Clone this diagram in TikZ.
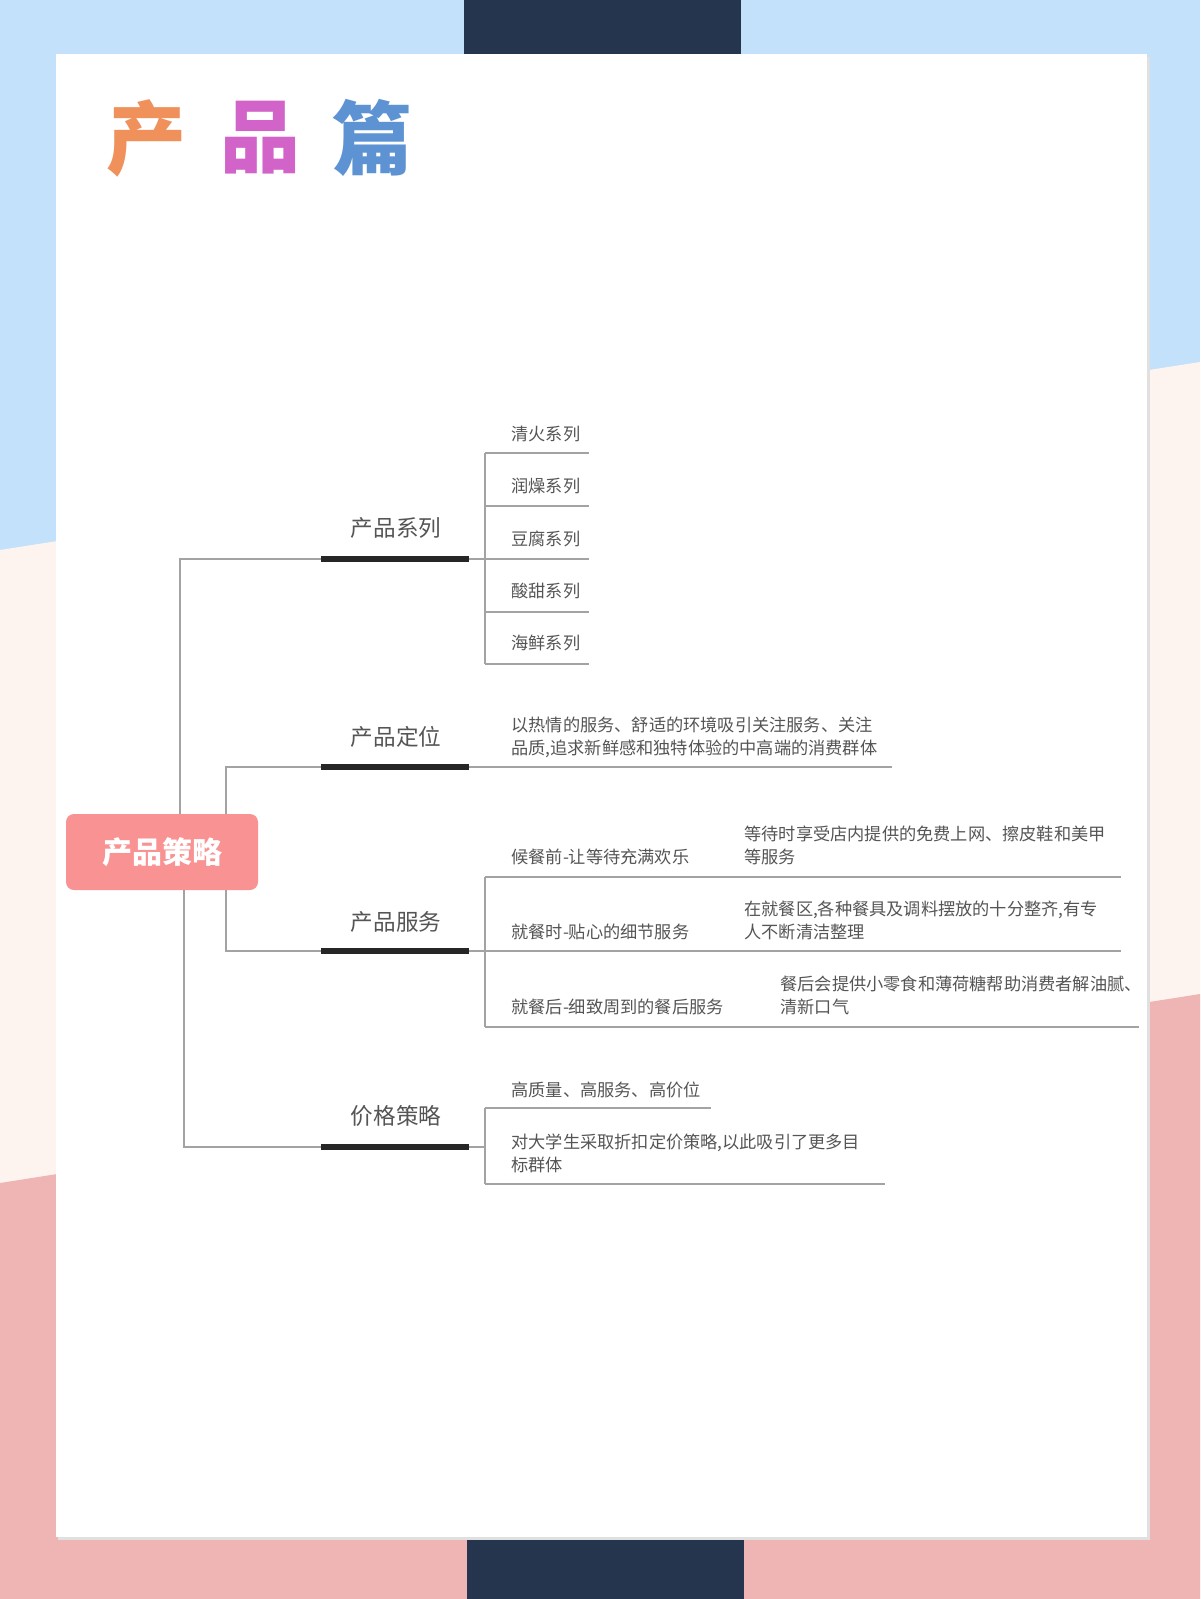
\documentclass[tikz,border=0pt]{standalone}
\usepackage{fontspec}
\setmainfont{Noto Sans CJK SC}
\definecolor{bgblue}{HTML}{C3E1FA}
\definecolor{bgcream}{HTML}{FDF4EF}
\definecolor{bgpink}{HTML}{EFB5B5}
\definecolor{navy}{HTML}{25354D}
\definecolor{rootpink}{HTML}{F99292}
\definecolor{linegray}{HTML}{A3A3A3}
\definecolor{txtgray}{HTML}{555555}
\definecolor{tA}{HTML}{F0915C}
\definecolor{tB}{HTML}{D163C9}
\definecolor{tC}{HTML}{5E93D3}
\tikzset{
  conn/.style={draw=linegray, line width=1pt},
  under/.style={draw=black!85, line width=2.6pt},
  rootbox/.style={fill=rootpink, text=white, rounded corners=4pt, minimum width=96pt, minimum height=38pt, inner sep=0pt, font=\fontsize{15}{15}\selectfont\bfseries},
  lvlone/.style={text=txtgray, inner sep=0pt, font=\fontsize{11.3}{11.3}\selectfont},
  lvltwo/.style={text=txtgray, inner sep=0pt, anchor=west, align=left, font=\fontsize{8.6}{11.5}\selectfont},
  titlech/.style={inner sep=0pt, font=\fontsize{40}{40}\selectfont\bfseries}
}
\begin{document}
\begin{tikzpicture}[x=0.5pt,y=-0.5pt]
\useasboundingbox (0,0) rectangle (1200,1599);
% background
\fill[bgblue] (0,0) rectangle (1200,1599);
\fill[bgcream] (0,550) -- (1200,362) -- (1200,1599) -- (0,1599) -- cycle;
\fill[bgpink] (0,1183) -- (1200,994) -- (1200,1599) -- (0,1599) -- cycle;
\fill[navy] (464,0) rectangle (741,60);
\fill[navy] (467,1530) rectangle (744,1599);
\fill[black!12] (58,57) rectangle (1150,1540);
\fill[white] (56,54) rectangle (1147,1537);
% title
\node[titlech, text=tA] (ta) at (146,138) {产};
\node[titlech, text=tB] (tb) at (260,138) {品};
\node[titlech, text=tC] (tc) at (372,138) {篇};
% root
\node[rootbox] (root) at (162,852) {产品策略};
% level-1 labels
\node[lvlone] (s1) at (396,528) {产品系列};
\node[lvlone] (s2) at (396,737) {产品定位};
\node[lvlone] (s3) at (396,922) {产品服务};
\node[lvlone] (s4) at (396,1116) {价格策略};
% junction coordinates
\coordinate (j1) at (179.5,559);
\coordinate (j2) at (226,767);
\coordinate (j3) at (226,951);
\coordinate (j4) at (183.5,1147);
\coordinate (b1) at (485,559);
\coordinate (b3) at (485,951);
\coordinate (b4) at (485,1147);
\coordinate (e2) at (892,767);
% trunks
\draw[conn] (root.north -| j1) -- (j1) -- (b1);
\draw[conn] (root.north -| j2) -- (j2) -- (e2);
\draw[conn] (root.south -| j3) -- (j3) -- (b3);
\draw[conn] (root.south -| j4) -- (j4) -- (b4);
% underlines of level-1
\coordinate (u1a) at (321,559); \coordinate (u1b) at (469,559);
\coordinate (u2a) at (321,767); \coordinate (u2b) at (469,767);
\coordinate (u3a) at (321,951); \coordinate (u3b) at (469,951);
\coordinate (u4a) at (321,1147); \coordinate (u4b) at (469,1147);
\draw[under] (u1a) -- (u1b);
\draw[under] (u2a) -- (u2b);
\draw[under] (u3a) -- (u3b);
\draw[under] (u4a) -- (u4b);
% ---- 产品系列 children
\coordinate (c1a) at (485,453); \coordinate (c1b) at (589,453);
\coordinate (c2a) at (485,506); \coordinate (c2b) at (589,506);
\coordinate (c3a) at (485,559); \coordinate (c3b) at (589,559);
\coordinate (c4a) at (485,612); \coordinate (c4b) at (589,612);
\coordinate (c5a) at (485,664); \coordinate (c5b) at (589,664);
\draw[conn] (c1a) -- (c5a);
\draw[conn] (c1a) -- (c1b);
\draw[conn] (c2a) -- (c2b);
\draw[conn] (c3a) -- (c3b);
\draw[conn] (c4a) -- (c4b);
\draw[conn] (c5a) -- (c5b);
\node[lvltwo] (x1) at (511,434) {清火系列};
\node[lvltwo] (x2) at (511,486) {润燥系列};
\node[lvltwo] (x3) at (511,539) {豆腐系列};
\node[lvltwo] (x4) at (511,591) {酸甜系列};
\node[lvltwo] (x5) at (511,643) {海鲜系列};
% ---- 产品定位
\node[lvltwo] (d1) at (511,737.5) {以热情的服务、舒适的环境吸引关注服务、关注\\品质,追求新鲜感和独特体验的中高端的消费群体};
% ---- 产品服务 children
\coordinate (f1a) at (485,877); \coordinate (f1b) at (1121,877);
\coordinate (f2a) at (485,951); \coordinate (f2b) at (1121,951);
\coordinate (f3a) at (485,1027); \coordinate (f3b) at (1139,1027);
\draw[conn] (f1a) -- (f3a);
\draw[conn] (f1a) -- (f1b);
\draw[conn] (f2a) -- (f2b);
\draw[conn] (f3a) -- (f3b);
\node[lvltwo] (g1) at (511,857) {候餐前-让等待充满欢乐};
\node[lvltwo] (g2) at (511,932) {就餐时-贴心的细节服务};
\node[lvltwo] (g3) at (511,1007) {就餐后-细致周到的餐后服务};
\node[lvltwo] (h1) at (744,845.5) {等待时享受店内提供的免费上网、擦皮鞋和美甲\\等服务};
\node[lvltwo] (h2) at (744,920.5) {在就餐区,各种餐具及调料摆放的十分整齐,有专\\人不断清洁整理};
\node[lvltwo] (h3) at (780,995.5) {餐后会提供小零食和薄荷糖帮助消费者解油腻、\\清新口气};
% ---- 价格策略 children
\coordinate (p1a) at (485,1108); \coordinate (p1b) at (711,1108);
\coordinate (p2a) at (485,1184); \coordinate (p2b) at (885,1184);
\draw[conn] (p1a) -- (p2a);
\draw[conn] (p1a) -- (p1b);
\draw[conn] (p2a) -- (p2b);
\node[lvltwo] (q1) at (511,1090) {高质量、高服务、高价位};
\node[lvltwo] (q2) at (511,1153.5) {对大学生采取折扣定价策略,以此吸引了更多目\\标群体};
\end{tikzpicture}
\end{document}
